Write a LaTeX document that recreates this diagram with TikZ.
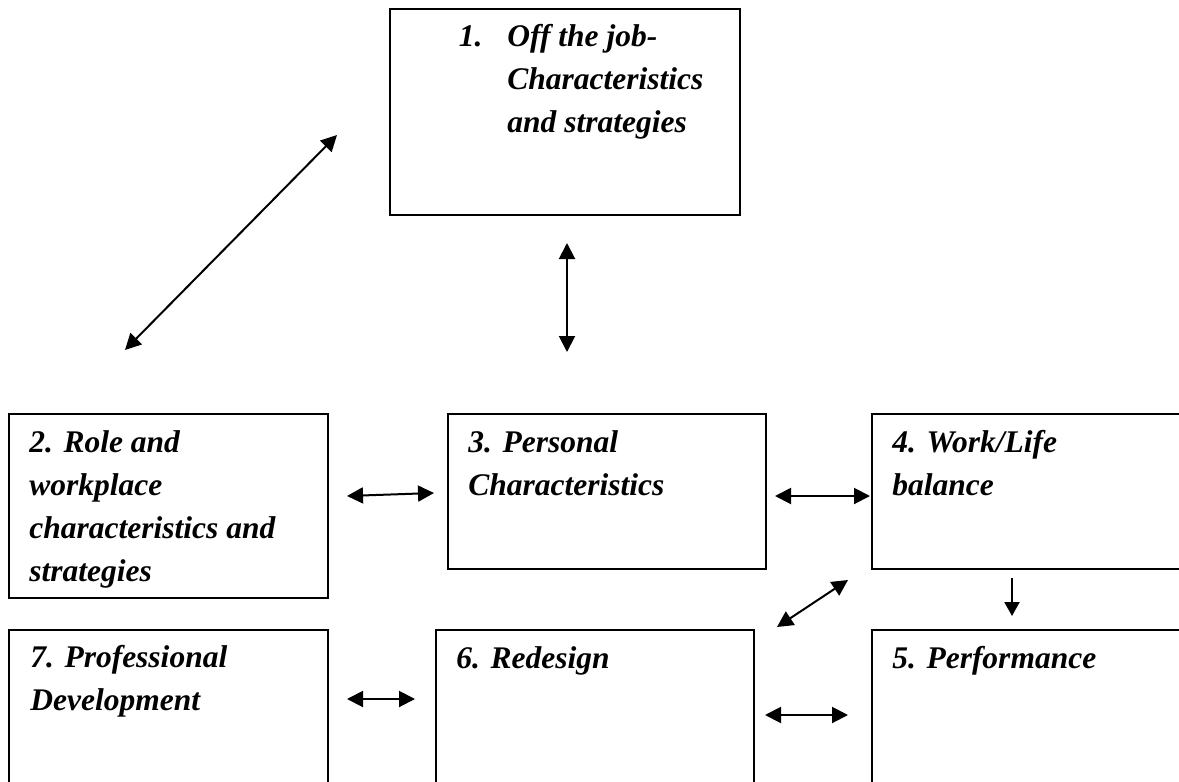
\documentclass[tikz,border=0pt]{standalone}
\usepackage{fontspec}
\setmainfont{Liberation Serif}
\usetikzlibrary{arrows.meta}

\begin{document}
\begin{tikzpicture}
    [x=0.5pt,y=-0.5pt,
     box/.style={draw,line width=1pt,inner sep=0pt,anchor=north west},
     lbl/.style={anchor=base west,inner sep=0pt,align=left,
       font=\fontsize{15.75}{21.5}\selectfont\bfseries\itshape},
     dbl/.style={line width=1pt,{Triangle[length=8pt,width=8pt]}-{Triangle[length=8pt,width=8pt]}}]
    \clip (0,0) rectangle (1179,782);
    % boxes
    \node[box,minimum width=175pt,minimum height=103pt] (off) at (389,8) {};
    \node[box,minimum width=159.5pt,minimum height=92pt] (role) at (8,413) {};
    \node[box,minimum width=159pt,minimum height=77.5pt] (pers) at (447,413) {};
    \node[box,minimum width=164.5pt,minimum height=77.5pt] (work) at (871,413) {};
    \node[box,minimum width=159.5pt,minimum height=85.5pt] (prof) at (8,629) {};
    \node[box,minimum width=159pt,minimum height=85.5pt] (redes) at (435,629) {};
    \node[box,minimum width=164.5pt,minimum height=85.5pt] (perf) at (871,629) {};
    % texts (placed at the baseline of their last line)
    \node[lbl] (toff) at (507,132) {\llap{1.\hspace{12.5pt}}Off the job-\\Characteristics\\and strategies};
    \node[lbl] (trole) at (29,581) {2. Role and\\workplace\\characteristics and\\strategies};
    \node[lbl] (tpers) at (468,495) {3. Personal\\Characteristics};
    \node[lbl] (twork) at (892,495) {4. Work/Life\\balance};
    \node[lbl] (tprof) at (30,710) {7. Professional\\Development};
    \node[lbl] (tredes) at (456,668) {6. Redesign};
    \node[lbl] (tperf) at (892,668) {5. Performance};
    % arrow ends
    \coordinate (a1) at (337,135); \coordinate (a2) at (125,350);
    \coordinate (b1) at (567,243); \coordinate (b2) at (567,352);
    \coordinate (c1) at (347,496); \coordinate (c2) at (434,493);
    \coordinate (d1) at (775,496); \coordinate (d2) at (870,496);
    \coordinate (e1) at (848,580); \coordinate (e2) at (777,627);
    \coordinate (f1) at (1012,578); \coordinate (f2) at (1012,616);
    \coordinate (g1) at (347,699); \coordinate (g2) at (415,699);
    \coordinate (h1) at (765,715); \coordinate (h2) at (848,715);
    \draw[dbl] (a1) -- (a2);
    \draw[dbl] (b1) -- (b2);
    \draw[dbl] (c1) -- (c2);
    \draw[dbl] (d1) -- (d2);
    \draw[dbl] (e1) -- (e2);
    \draw[line width=1pt,-{Triangle[length=7pt,width=7.5pt]}] (f1) -- (f2);
    \draw[dbl] (g1) -- (g2);
    \draw[dbl] (h1) -- (h2);
\end{tikzpicture}
\end{document}
